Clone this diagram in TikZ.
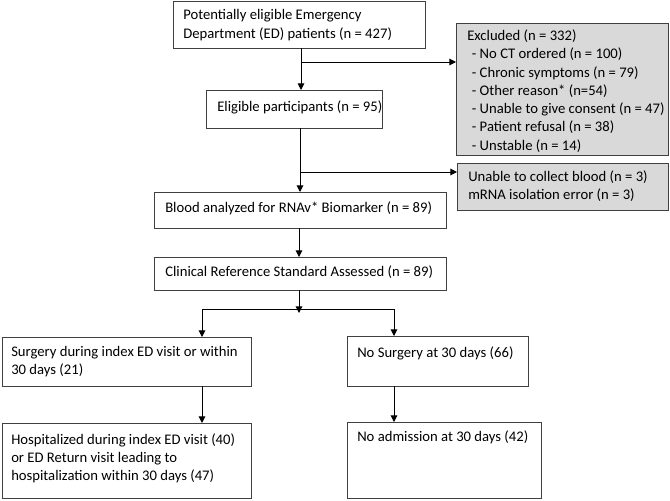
\documentclass[tikz,border=0pt]{standalone}
\usepackage{fontspec}
\setmainfont{Carlito}
\usetikzlibrary{fit,arrows.meta}
\definecolor{boxgray}{HTML}{D9D9D9}
\definecolor{boxline}{HTML}{404040}
\tikzset{
  box/.style={draw=boxline, line width=0.75pt, inner sep=0pt, outer sep=0pt},
  graybox/.style={box, fill=boxgray},
  txt/.style={anchor=west, inner sep=0pt, align=left, font=\fontsize{11pt}{13.7pt}\selectfont},
  conn/.style={line width=0.75pt, black},
  arr/.style={conn, -{Triangle[length=5pt,width=5pt]}}
}
\begin{document}
\begin{tikzpicture}[x=0.75pt,y=-0.75pt]
\useasboundingbox (0,0) rectangle (670,500);
% boxes
\node[box, fit={(173,1.5) (425,48)}] (b1) {};
\node[graybox, fit={(456,23) (668.5,155)}] (excl) {};
\node[box, fit={(206,90) (382,128)}] (elig) {};
\node[graybox, fit={(457,163) (668.5,210)}] (unable) {};
\node[box, fit={(154,192) (446,228)}] (blood) {};
\node[box, fit={(154,257) (446,290)}] (clin) {};
\node[box, fit={(2,337) (251,386)}] (surg) {};
\node[box, fit={(347,336) (528,386)}] (nosurg) {};
\node[box, fit={(2,423) (251,498)}] (hosp) {};
\node[box, fit={(347,422) (541,498.5)}] (noadm) {};
% texts
\node[txt] (t1) at (183,25) {Potentially eligible Emergency\\Department (ED) patients (n = 427)};
\node[txt] (texcl) at (467,91) {Excluded (n = 332)\\
\hspace*{3.5pt}- No CT ordered (n = 100)\\
\hspace*{3.5pt}- Chronic symptoms (n = 79)\\
\hspace*{3.5pt}- Other reason* (n=54)\\
\hspace*{3.5pt}- Unable to give consent (n = 47)\\
\hspace*{3.5pt}- Patient refusal (n = 38)\\
\hspace*{3.5pt}- Unstable (n = 14)};
\node[txt] (telig) at (217,107.5) {Eligible participants (n = 95)};
\node[txt] (tunable) at (468,186.5) {Unable to collect blood (n = 3)\\mRNA isolation error (n = 3)};
\node[txt] (tblood) at (165,208) {Blood analyzed for RNAv* Biomarker (n = 89)};
\node[txt] (tclin) at (165,272.5) {Clinical Reference Standard Assessed (n = 89)};
\node[txt] (tsurg) at (11,361.5) {Surgery during index ED visit or within\\30 days (21)};
\node[txt] (tnosurg) at (357,353.5) {No Surgery at 30 days (66)};
\node[txt] (thosp) at (11,458.5) {Hospitalized during index ED visit (40)\\or ED Return visit leading to\\hospitalization within 30 days (47)};
\node[txt] (tnoadm) at (357,437.5) {No admission at 30 days (42)};
% connectors
\coordinate (j1) at (301,62);
\coordinate (j2) at (300,172);
\coordinate (j3) at (299,309);
\coordinate (jl) at (202,309);
\coordinate (jr) at (394,309);
\draw[arr] (b1.south -| j1) -- (elig.north -| j1);
\draw[arr] (j1) -- (j1 -| excl.west);
\draw[arr] (elig.south -| j2) -- (blood.north -| j2);
\draw[arr] (j2) -- (j2 -| unable.west);
\draw[arr] (blood.south -| j3) -- (clin.north -| j3);
\draw[arr] (clin.south -| j3) -- ([yshift=-3pt]j3);
\draw[conn] (jl) -- (jr);
\draw[arr] (jl) -- (surg.north -| jl);
\draw[arr] (jr) -- (nosurg.north -| jr);
\draw[arr] (surg.south -| jl) -- (hosp.north -| jl);
\draw[arr] (nosurg.south -| jr) -- (noadm.north -| jr);
\end{tikzpicture}
\end{document}
